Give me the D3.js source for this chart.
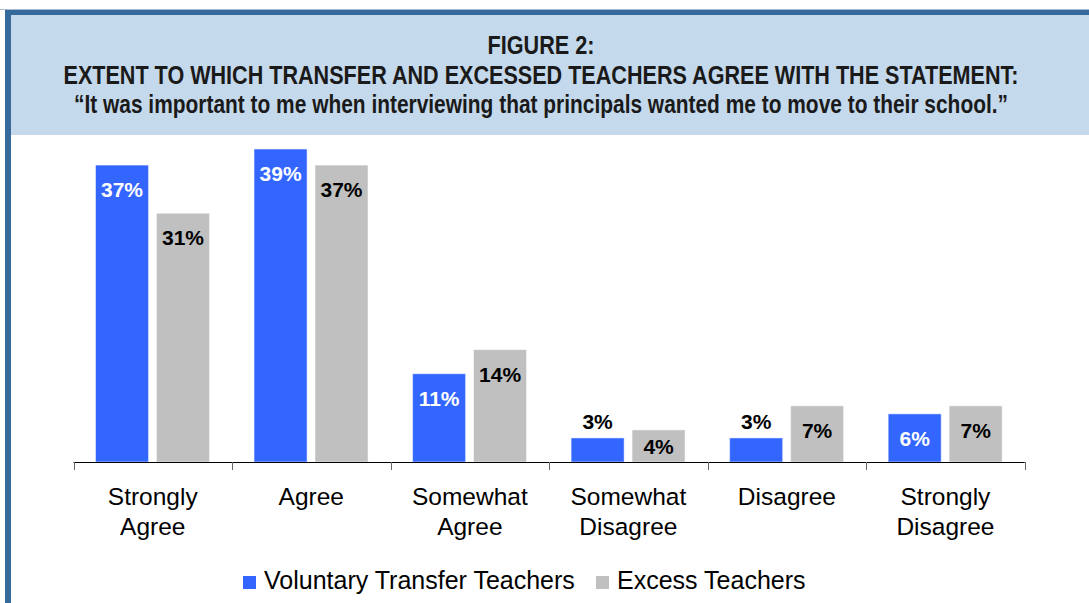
<!DOCTYPE html>
<html>
<head>
<meta charset="utf-8">
<script src="https://cdn.jsdelivr.net/npm/d3@7"></script>
<style>
  body { margin: 0; background: #fff; }
  svg { display: block; }
</style>
</head>
<body>
<div id="chart"></div>
<script>
const categories = ["Strongly Agree", "Agree", "Somewhat Agree", "Somewhat Disagree", "Disagree", "Strongly Disagree"];
const voluntary = [37, 39, 11, 3, 3, 6];
const excess = [31, 37, 14, 4, 7, 7];
const seriesNames = ["Voluntary Transfer Teachers", "Excess Teachers"];
const colors = ["#3366ff", "#c0c0c0"];
const titleLines = [
  "FIGURE 2:",
  "EXTENT TO WHICH TRANSFER AND EXCESSED TEACHERS AGREE WITH THE STATEMENT:",
  "\u201cIt was important to me when interviewing that principals wanted me to move to their school.\u201d"
];

const W = 1089, H = 603;
const svg = d3.select("#chart").append("svg")
  .attr("width", W)
  .attr("height", H);

// frame + header
svg.append("rect").attr("x", 0).attr("y", 9).attr("width", W).attr("height", 1).attr("fill", "#a9bccf");
svg.append("rect").attr("x", 11).attr("y", 15).attr("width", W - 11).attr("height", 120).attr("fill", "#c5d9ec");
svg.append("rect").attr("x", 5).attr("y", 10).attr("width", W - 5).attr("height", 5).attr("fill", "#366a9c");
svg.append("rect").attr("x", 5).attr("y", 10).attr("width", 6).attr("height", H - 10).attr("fill", "#366a9c");

// narrow title: regular sans squeezed to the measured widths
const labelFont = "'Liberation Sans', Arial, sans-serif";
const titleY = [54, 84, 113];
const titleW = [107, 955, 934];
svg.append("g").selectAll("text")
  .data(titleLines)
  .join("text")
    .attr("x", 541)
    .attr("y", (d, i) => titleY[i])
    .attr("text-anchor", "middle")
    .attr("font-family", labelFont)
    .attr("font-weight", "bold")
    .attr("font-size", 25)
    .attr("fill", "#1a1a1a")
    .attr("textLength", (d, i) => titleW[i])
    .attr("lengthAdjust", "spacingAndGlyphs")
    .text(d => d);

// scales
const baseY = 462;
const x0 = d3.scaleBand().domain(categories).range([73.5, 1024.7]).padding(0);
const x1 = d3.scaleBand().domain([0, 1]).range([22, 136]).paddingInner(0.13);
const y = d3.scaleLinear().domain([0, 40]).range([baseY, 141]);

const data = categories.map((c, i) => ({cat: c, vals: [voluntary[i], excess[i]]}));

const groups = svg.append("g").selectAll("g")
  .data(data)
  .join("g")
    .attr("transform", d => `translate(${x0(d.cat)},0)`);

groups.selectAll("rect")
  .data(d => d.vals.map((v, s) => ({v, s})))
  .join("rect")
    .attr("x", d => x1(d.s))
    .attr("y", d => y(d.v))
    .attr("width", x1.bandwidth())
    .attr("height", d => baseY - y(d.v))
    .attr("fill", d => colors[d.s])
    .attr("stroke", "rgba(255,255,255,0.5)")
    .attr("stroke-width", 1);

groups.selectAll("text.val")
  .data(d => d.vals.map((v, s) => ({v, s})))
  .join("text")
    .attr("class", "val")
    .attr("x", d => x1(d.s) + x1.bandwidth() / 2)
    .attr("y", d => {
      const top = y(d.v);
      const h = baseY - top;
      if (d.v <= 3) return top - 9;
      return top + Math.min(32, h / 2 + 8);
    })
    .attr("text-anchor", "middle")
    .attr("font-family", labelFont)
    .attr("font-weight", "bold")
    .attr("font-size", 21)
    .attr("fill", d => (d.s === 0 && d.v > 3) ? "#fff" : "#000")
    .text(d => d.v + "%");

// axis
const axis = svg.append("g");
axis.append("line")
  .attr("x1", 73.5).attr("x2", 1024.7)
  .attr("y1", baseY + 0.5).attr("y2", baseY + 0.5)
  .attr("stroke", "#000");
const edges = categories.map(c => x0(c)).concat([x0.range()[1]]);
axis.selectAll("line.tick")
  .data(edges)
  .join("line")
    .attr("class", "tick")
    .attr("x1", d => Math.round(d) + 0.5).attr("x2", d => Math.round(d) + 0.5)
    .attr("y1", baseY).attr("y2", baseY + 8)
    .attr("stroke", "#666");

// category labels
groups.each(function(d) {
  const parts = d.cat.includes(" ") ? d.cat.split(" ") : [d.cat];
  d3.select(this).selectAll("text.cat")
    .data(parts)
    .join("text")
      .attr("class", "cat")
      .attr("x", x0.bandwidth() / 2)
      .attr("y", (p, i) => 505 + i * 30)
      .attr("text-anchor", "middle")
      .attr("font-family", labelFont)
      .attr("font-size", 24.5)
      .attr("fill", "#000")
      .text(p => p);
});

// legend
const legend = svg.append("g");
const legX = [243, 596];
seriesNames.forEach((name, i) => {
  legend.append("rect")
    .attr("x", legX[i]).attr("y", 576)
    .attr("width", 13).attr("height", 13)
    .attr("fill", colors[i]);
  legend.append("text")
    .attr("x", legX[i] + 21).attr("y", 589)
    .attr("font-family", labelFont)
    .attr("font-size", 25)
    .attr("fill", "#000")
    .text(name);
});
</script>
</body>
</html>
